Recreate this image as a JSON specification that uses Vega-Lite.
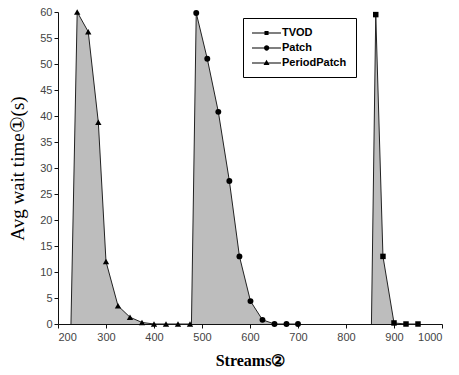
{
  "$schema": "https://vega.github.io/schema/vega-lite/v6.json",
  "width": 384,
  "height": 312,
  "autosize": {"type": "none"},
  "padding": {"left": 58, "top": 12, "right": 17, "bottom": 51},
  "background": "white",
  "config": {
    "view": {"stroke": null},
    "axis": {
      "grid": false,
      "domainColor": "#111",
      "tickColor": "#111",
      "tickSize": 4,
      "labelFont": "Liberation Sans",
      "labelFontSize": 11,
      "labelColor": "#444",
      "titleColor": "#000",
      "titleFont": "Liberation Serif"
    }
  },
  "data": {
    "values": [
      {"series": "PeriodPatch", "streams": 227, "wait": 0, "marker": false},
      {"series": "PeriodPatch", "streams": 240, "wait": 60, "marker": true},
      {"series": "PeriodPatch", "streams": 263, "wait": 56.2, "marker": true},
      {"series": "PeriodPatch", "streams": 284, "wait": 38.8, "marker": true},
      {"series": "PeriodPatch", "streams": 300, "wait": 12, "marker": true},
      {"series": "PeriodPatch", "streams": 325, "wait": 3.5, "marker": true},
      {"series": "PeriodPatch", "streams": 350, "wait": 1.3, "marker": true},
      {"series": "PeriodPatch", "streams": 375, "wait": 0.3, "marker": true},
      {"series": "PeriodPatch", "streams": 400, "wait": 0, "marker": true},
      {"series": "PeriodPatch", "streams": 425, "wait": 0, "marker": true},
      {"series": "PeriodPatch", "streams": 450, "wait": 0, "marker": true},
      {"series": "PeriodPatch", "streams": 475, "wait": 0, "marker": true},
      {"series": "Patch", "streams": 478, "wait": 0, "marker": false},
      {"series": "Patch", "streams": 488, "wait": 59.8, "marker": true},
      {"series": "Patch", "streams": 511, "wait": 51, "marker": true},
      {"series": "Patch", "streams": 534, "wait": 40.8, "marker": true},
      {"series": "Patch", "streams": 557, "wait": 27.5, "marker": true},
      {"series": "Patch", "streams": 578, "wait": 13, "marker": true},
      {"series": "Patch", "streams": 601, "wait": 4.4, "marker": true},
      {"series": "Patch", "streams": 626, "wait": 0.8, "marker": true},
      {"series": "Patch", "streams": 651, "wait": 0, "marker": true},
      {"series": "Patch", "streams": 676, "wait": 0, "marker": true},
      {"series": "Patch", "streams": 700, "wait": 0, "marker": true},
      {"series": "TVOD", "streams": 853, "wait": 0, "marker": false},
      {"series": "TVOD", "streams": 862, "wait": 59.5, "marker": true},
      {"series": "TVOD", "streams": 877, "wait": 13, "marker": true},
      {"series": "TVOD", "streams": 900, "wait": 0.2, "marker": true},
      {"series": "TVOD", "streams": 925, "wait": 0, "marker": true},
      {"series": "TVOD", "streams": 950, "wait": 0, "marker": true}
    ]
  },
  "encoding": {
    "x": {
      "field": "streams",
      "type": "quantitative",
      "scale": {"domain": [200, 1000], "nice": false, "zero": false},
      "axis": {
        "values": [200, 300, 400, 500, 600, 700, 800, 900, 1000],
        "format": "d",
        "title": "Streams②",
        "titleFontSize": 16,
        "titleFontWeight": "bold",
        "titlePadding": 10,
        "labelPadding": 3
      }
    },
    "y": {
      "field": "wait",
      "type": "quantitative",
      "scale": {"domain": [0, 60], "nice": false},
      "axis": {
        "values": [0, 5, 10, 15, 20, 25, 30, 35, 40, 45, 50, 55, 60],
        "title": "Avg wait time①(s)",
        "titleFontSize": 19,
        "titleFontWeight": "normal",
        "titlePadding": 12
      }
    }
  },
  "layer": [
    {
      "mark": {"type": "area", "color": "#bdbdbd", "interpolate": "linear"},
      "encoding": {
        "detail": {"field": "series"},
        "y": {"field": "wait", "type": "quantitative", "stack": null}
      }
    },
    {
      "mark": {"type": "line", "color": "#222", "strokeWidth": 1},
      "encoding": {"detail": {"field": "series"}}
    },
    {
      "transform": [{"filter": "datum.marker"}],
      "mark": {"type": "point", "filled": true, "color": "#000", "opacity": 1},
      "encoding": {
        "shape": {
          "field": "series",
          "scale": {"domain": ["TVOD", "Patch", "PeriodPatch"], "range": ["square", "circle", "triangle-up"]},
          "legend": null
        },
        "size": {
          "field": "series",
          "scale": {"domain": ["TVOD", "Patch", "PeriodPatch"], "range": [30, 40, 50]},
          "legend": null
        }
      }
    },
    {
      "transform": [{"filter": "datum.marker"}],
      "mark": {"type": "point", "filled": true, "color": "#000", "opacity": 0},
      "encoding": {
        "shape": {
          "field": "series",
          "scale": {
            "domain": ["TVOD", "Patch", "PeriodPatch"],
            "range": [
              "M-1,-0.09H3.83V0.09H-1ZM1.08,-0.34H1.76V0.34H1.08Z",
              "M-1,-0.09H3.83V0.09H-1ZM1,0A0.44,0.44 0 1,1 1.88,0A0.44,0.44 0 1,1 1,0Z",
              "M-1,-0.09H3.83V0.09H-1ZM1.42,-0.55L1.92,0.35H0.92Z"
            ]
          },
          "legend": {
            "title": null,
            "orient": "none",
            "legendX": 185,
            "legendY": 6,
            "symbolSize": 144,
            "symbolOpacity": 1,
            "symbolFillColor": "#000",
            "symbolStrokeWidth": 0,
            "labelFont": "Liberation Sans",
            "labelFontSize": 11,
            "labelFontWeight": "bold",
            "labelColor": "#000",
            "labelOffset": 18,
            "rowPadding": 4,
            "padding": 9,
            "strokeColor": "#000",
            "fillColor": "white",
            "encode": {
              "symbols": {
                "update": {
                  "fill": {"value": "#000"},
                  "opacity": {"value": 1}
                }
              }
            }
          }
        }
      }
    }
  ],
  "resolve": {"scale": {"shape": "independent"}}
}
